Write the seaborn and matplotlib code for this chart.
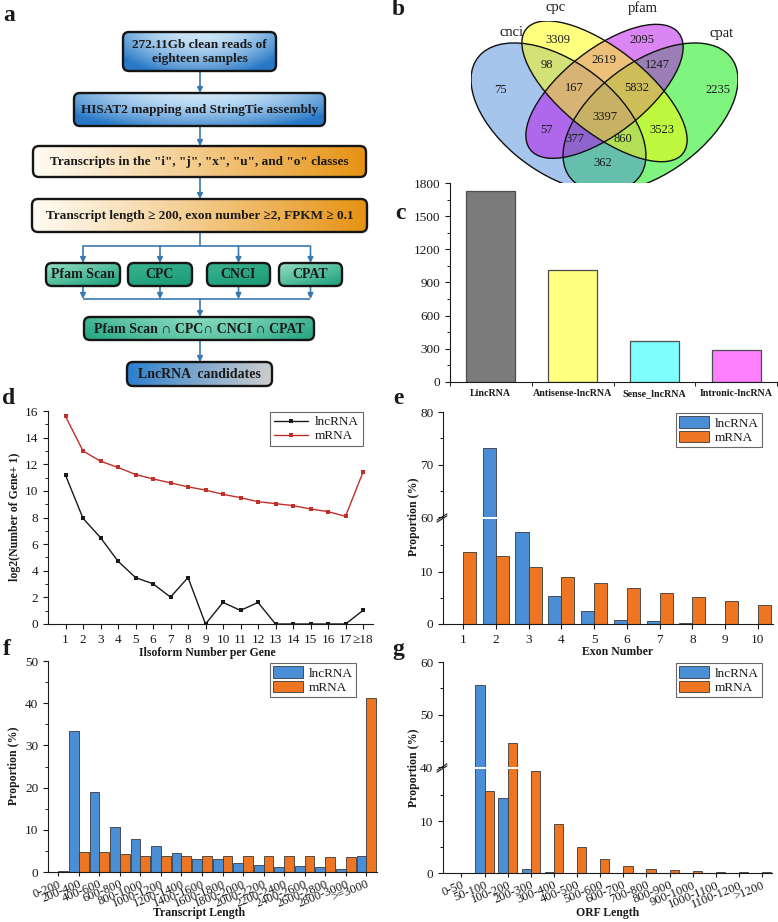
import numpy as np
import pandas as pd
import matplotlib
matplotlib.use("Agg")
import matplotlib.pyplot as plt
import seaborn as sns
from matplotlib.patches import FancyBboxPatch, Ellipse, Patch
from matplotlib.lines import Line2D
from matplotlib.ticker import MultipleLocator, FixedLocator

# ------------------------------------------------------------------ data
flow_steps = ["272.11Gb clean reads of\neighteen samples",
              "HISAT2 mapping and StringTie assembly",
              'Transcripts in the "i", "j", "x", "u", and "o" classes',
              "Transcript length \u2265 200, exon number \u22652, FPKM \u2265 0.1"]
flow_tools = ["Pfam Scan", "CPC", "CNCI", "CPAT"]
flow_final = ["Pfam Scan \u2229 CPC\u2229 CNCI \u2229 CPAT", "LncRNA  candidates"]

venn_sets = ["cnci", "cpc", "pfam", "cpat"]
venn_regions = ["cnci", "cpc", "pfam", "cpat",
                "cnci&cpc", "cpc&pfam", "pfam&cpat", "cnci&pfam", "cpc&cpat", "cnci&cpat",
                "cnci&cpc&pfam", "cpc&pfam&cpat", "cnci&pfam&cpat", "cnci&cpc&cpat",
                "all"]
venn_counts = [75, 3309, 2095, 2235,
               98, 2619, 1247, 57, 3523, 362,
               167, 5832, 377, 860,
               3397]

lnc_classes = ["LincRNA", "Antisense-lncRNA", "Sense_lncRNA", "Intronic-lncRNA"]
lnc_class_counts = [1727, 1015, 367, 285]

isoform_n = list(range(1, 19))
isoform_labels = [str(i) for i in range(1, 18)] + ["\u226518"]
iso_lnc = [11.18, 7.94, 6.49, 4.72, 3.49, 3.02, 2.02, 3.49, 0.0, 1.62, 1.02, 1.62, 0.0, 0.0, 0.0, 0.0, 0.0, 1.02]
iso_mrna = [15.6, 13.0, 12.23, 11.76, 11.23, 10.9, 10.6, 10.3, 10.06, 9.74, 9.49, 9.19, 9.04, 8.89, 8.64, 8.44, 8.09, 11.41]

exon_cats = [str(i) for i in range(1, 11)]
exon_lnc = [0.0, 73.2, 17.6, 5.3, 2.4, 0.8, 0.6, 0.15, 0.0, 0.0]
exon_mrna = [13.7, 12.9, 10.8, 9.0, 7.8, 6.8, 5.9, 5.1, 4.3, 3.7]

len_cats = ["0-200", "200-400", "400-600", "600-800", "800-1000", "1000-1200", "1200-1400",
            "1400-1600", "1600-1800", "1800-2000", "2000-2200", "2200-2400", "2400-2600",
            "2600-2800", "2800-3000", ">=3000"]
len_lnc = [0.0, 33.4, 19.0, 10.55, 7.9, 6.1, 4.4, 3.15, 3.15, 2.2, 1.65, 1.25, 1.4, 1.2, 0.8, 3.8]
len_mrna = [0.2, 4.7, 4.7, 4.2, 3.8, 3.8, 3.7, 3.9, 3.9, 3.9, 3.9, 3.8, 3.8, 3.6, 3.5, 41.3]

orf_cats = ["0-50", "50-100", "100-200", "200-300", "300-400", "400-500", "500-600", "600-700",
            "700-800", "800-900", "900-1000", "1000-1100", "1100-1200", ">1200"]
orf_lnc = [0.0, 55.7, 14.5, 0.7, 0.25, 0.0, 0.05, 0.0, 0.0, 0.0, 0.0, 0.0, 0.0, 0.0]
orf_mrna = [0.0, 15.8, 44.5, 19.7, 9.35, 5.0, 2.6, 1.4, 0.8, 0.6, 0.3, 0.2, 0.1, 0.1]

series = ["lncRNA", "mRNA"]

# ------------------------------------------------------------------ style
sns.set_theme(style="ticks")
plt.rcParams["font.family"] = ["Liberation Serif", "DejaVu Serif"]
plt.rcParams.update({
    "axes.linewidth": 0.8, "xtick.major.width": 0.8, "ytick.major.width": 0.8,
    "xtick.minor.width": 0.7, "ytick.minor.width": 0.7,
    "xtick.major.size": 3.5, "ytick.major.size": 3.5,
    "xtick.minor.size": 2, "ytick.minor.size": 2,
    "xtick.direction": "out", "ytick.direction": "out",
    "xtick.labelsize": 9.5, "ytick.labelsize": 9.5,
    "axes.edgecolor": "#1a1a1a", "xtick.color": "#1a1a1a", "ytick.color": "#1a1a1a",
    "text.color": "#1a1a1a",
})

W, H = 778, 922
fig = plt.figure(figsize=(W / 100, H / 100), dpi=100)


def rect(x0, y0, x1, y1):
    return [x0 / W, 1 - y1 / H, (x1 - x0) / W, (y1 - y0) / H]


def fp(x, y):
    return x / W, 1 - y / H


def letter(ch, x, y):
    fig.text(*fp(x, y), ch, fontsize=17, fontweight="bold", va="baseline", ha="left")


BLUE, ORANGE = "#4a8fd6", "#ee7623"
pal = {"lncRNA": BLUE, "mRNA": ORANGE}
EDGE = "#3a3a3a"

# ------------------------------------------------------------------ panel a (flowchart)
ax_a = fig.add_axes(rect(0, 0, 390, 395))
ax_a.set_xlim(0, 390)
ax_a.set_ylim(395, 0)
ax_a.axis("off")


def c(rgb):
    return np.array(rgb, dtype=float) / 255.0


def mix(c1, c2, t):
    t = np.clip(t, 0, 1)[..., None]
    return (1 - t) * c1 + t * c2


def g_blue(u, v):
    t = 0.6 * np.abs(2 * u - 1) ** 2 + 0.75 * v ** 1.6
    return mix(c((205, 230, 248)), c((40, 120, 198)), t)


def g_orange(u, v):
    return mix(c((255, 251, 242)), c((230, 146, 18)), u ** 1.1)


def g_teal_light(u, v):
    t = 0.5 * u + 0.6 * v
    return mix(c((150, 222, 195)), c((35, 165, 128)), t)


def g_teal_dark(u, v):
    t = 0.3 * u + 0.6 * v
    return mix(c((60, 180, 145)), c((20, 150, 112)), t)


def g_teal_mid(u, v):
    t = 0.7 * np.abs(2 * u - 1) ** 1.5 + 0.4 * v
    return mix(c((135, 218, 190)), c((40, 168, 132)), t)


def g_final(u, v):
    return mix(c((40, 125, 205)), c((205, 205, 205)), u ** 0.9)


def grad_box(x0, y0, x1, y1, func, text, fs=9.5, r=6):
    patch = FancyBboxPatch((x0, y0), x1 - x0, y1 - y0,
                           boxstyle=f"round,pad=0,rounding_size={r}",
                           fc="none", ec="#151515", lw=1.7, zorder=4)
    ax_a.add_patch(patch)
    hh, ww = 50, 240
    u = np.linspace(0, 1, ww)[None, :].repeat(hh, 0)
    v = np.linspace(0, 1, hh)[:, None].repeat(ww, 1)
    im = ax_a.imshow(func(u, v), extent=(x0, x1, y1, y0), origin="upper",
                     zorder=3, interpolation="bilinear", aspect="auto")
    im.set_clip_path(patch)
    ax_a.text((x0 + x1) / 2, (y0 + y1) / 2 + 0.5, text, ha="center", va="center",
              fontsize=fs, fontweight="bold", color="#1a1a1a", zorder=5, linespacing=1.15)


ACOL = "#3a78b0"


def arrow(x, y0, y1):
    ax_a.annotate("", xy=(x, y1), xytext=(x, y0),
                  arrowprops=dict(arrowstyle="-|>", color=ACOL, lw=1.2,
                                  mutation_scale=8, shrinkA=0, shrinkB=0), zorder=2)


def line(xs, ys):
    ax_a.plot(xs, ys, color=ACOL, lw=1.2, zorder=2, solid_capstyle="butt")


main_boxes = [(123, 32, 276, 71, g_blue), (74, 93, 325, 126, g_blue),
              (33, 146, 366, 177, g_orange), (32, 199, 367, 232, g_orange)]
for (x0, y0, x1, y1, f), t in zip(main_boxes, flow_steps):
    grad_box(x0, y0, x1, y1, f, t)
arrow(200, 71, 93)
arrow(200, 126, 146)
arrow(200, 177, 199)

tool_boxes = [(46, 120, g_teal_light), (128, 192, g_teal_dark),
              (207, 270, g_teal_dark), (279, 342, g_teal_light)]
centers = [(a + b) / 2 for a, b, _ in tool_boxes]
line([200, 200], [232, 246])
line([centers[0], centers[-1]], [246, 246])
line([centers[0], centers[-1]], [299, 299])
for (x0, x1, f), t, cx in zip(tool_boxes, flow_tools, centers):
    grad_box(x0, 263, x1, 286, f, t, fs=10)
    arrow(cx, 246, 263)
    arrow(cx, 286, 299)
arrow(200, 299, 317)
grad_box(84, 317, 314, 340, g_teal_mid, flow_final[0], fs=10)
arrow(200, 340, 362)
grad_box(127, 362, 272, 386, g_final, flow_final[1], fs=10)
ax_a.set_xlim(0, 390)
ax_a.set_ylim(395, 0)
letter("a", 3, 21)

# ------------------------------------------------------------------ panel b (venn)
ax_b = fig.add_axes(rect(471, 21, 738, 192))
ax_b.set_xlim(0.065, 0.935)
ax_b.set_ylim(0.185, 0.839)
ax_b.axis("off")
ell_geom = {"cnci": (0.35, 0.47, 0.35, 0.20, 135), "cpc": (0.50, 0.57, 0.35, 0.15, 135),
            "pfam": (0.50, 0.57, 0.33, 0.15, 45), "cpat": (0.65, 0.47, 0.35, 0.20, 45)}
ell_col = {"cnci": "#4f8cdc", "cpc": "#ffff00", "pfam": "#b80aeb", "cpat": "#00eb00"}
for s in ["cpat", "cnci", "pfam", "cpc"]:
    x, y, a, b, ang = ell_geom[s]
    ax_b.add_patch(Ellipse((x, y), 2 * a, 2 * b, angle=ang, fc=ell_col[s], alpha=0.5, ec="none"))
for s in venn_sets:
    x, y, a, b, ang = ell_geom[s]
    ax_b.add_patch(Ellipse((x, y), 2 * a, 2 * b, angle=ang, fill=False, ec="#111111", lw=1.0))

venn_label_px = [(511, 33), (556, 8), (643, 8), (722, 33)]
for s, (x, y) in zip(venn_sets, venn_label_px):
    fig.text(*fp(x, y), s, fontsize=10.5, ha="center", va="center")
venn_num_px = [(500, 90), (558, 40), (642, 40), (718, 90),
               (547, 65), (604, 60), (657, 65), (547, 130), (662, 130), (603, 163),
               (574, 88), (637, 88), (575, 139), (623, 139),
               (605, 117)]
for n, (x, y) in zip(venn_counts, venn_num_px):
    fig.text(*fp(x, y), str(n), fontsize=9, ha="center", va="center")
letter("b", 392, 15)

# ------------------------------------------------------------------ panel c (bar)
ax_c = fig.add_axes(rect(450, 183, 777, 382))
df_c = pd.DataFrame({"cls": lnc_classes, "count": lnc_class_counts})
cls_pal = dict(zip(lnc_classes, ["#7b7b7b", "#ffff80", "#80ffff", "#ff80ff"]))
sns.barplot(data=df_c, x="cls", y="count", hue="cls", palette=cls_pal, width=0.6,
            edgecolor="#4d4d4d", linewidth=0.9, ax=ax_c, legend=False, saturation=1)
ax_c.set_ylim(0, 1800)
ax_c.set_xlim(-0.5, 3.5)
ax_c.yaxis.set_major_locator(MultipleLocator(300))
ax_c.yaxis.set_minor_locator(MultipleLocator(150))
ax_c.xaxis.set_minor_locator(FixedLocator([-0.5, 0.5, 1.5, 2.5, 3.5]))
ax_c.tick_params(axis="x", which="major", length=0, pad=5)
ax_c.tick_params(axis="x", which="minor", length=3)
for lab in ax_c.get_xticklabels():
    lab.set_fontsize(7.2)
    lab.set_fontweight("bold")
ax_c.set_xlabel("")
ax_c.set_ylabel("")
sns.despine(ax=ax_c)
letter("c", 395, 219)

# ------------------------------------------------------------------ panel d (line)
ax_d = fig.add_axes(rect(48, 411, 373, 624))
df_d = pd.DataFrame({"iso": isoform_n * 2, "val": iso_lnc + iso_mrna,
                     "type": ["lncRNA"] * len(iso_lnc) + ["mRNA"] * len(iso_mrna)})
line_pal = {"lncRNA": "#1a1a1a", "mRNA": "#c0302a"}
sns.lineplot(data=df_d, x="iso", y="val", hue="type", palette=line_pal, marker="s",
             markersize=3.2, markeredgewidth=0, linewidth=1.0, ax=ax_d, legend=False)
ax_d.set_ylim(0, 16)
ax_d.set_xlim(0, 18.57)
ax_d.set_xticks(isoform_n)
ax_d.set_xticklabels(isoform_labels)
ax_d.yaxis.set_major_locator(MultipleLocator(2))
ax_d.yaxis.set_minor_locator(MultipleLocator(1))
ax_d.set_xlabel("")
ax_d.set_ylabel("")
sns.despine(ax=ax_d)
h_d = [Line2D([], [], color=line_pal[s], marker="s", markersize=3.2, markeredgewidth=0, lw=1.0)
       for s in series]
ax_d.legend(h_d, series, loc="upper right", bbox_to_anchor=fp(363, 412), bbox_transform=fig.transFigure,
            borderaxespad=0, frameon=True, fancybox=False, edgecolor="#444444", fontsize=9.5,
            handlelength=2.6, borderpad=0.3, labelspacing=0.15, handletextpad=0.5).get_frame().set_linewidth(0.8)
fig.text(*fp(15, 517), "log2(Number of Gene+ 1)", rotation=90, fontsize=8.5, fontweight="bold",
         ha="center", va="center")
fig.text(*fp(207, 653), "Ilsoform Number per Gene", fontsize=8.5, fontweight="bold",
         ha="center", va="center")
letter("d", 2, 404)


# ------------------------------------------------------------------ broken bar helper
def long_df(cats, lnc, mrna, key):
    return pd.DataFrame({key: cats * 2, "prop": lnc + mrna,
                         "type": ["lncRNA"] * len(lnc) + ["mRNA"] * len(mrna)})


def bars(ax, df, key, order, width):
    sns.barplot(data=df, x=key, y="prop", hue="type", hue_order=series, order=order,
                palette=pal, width=width, edgecolor=EDGE, linewidth=0.6, ax=ax,
                legend=False, saturation=1, errorbar=None)
    ax.set_xlabel("")
    ax.set_ylabel("")


def bar_legend(ax, x1, y0):
    hs = [Patch(fc=pal[s], ec=EDGE, lw=0.6) for s in series]
    lg = ax.legend(hs, series, loc="upper right", bbox_to_anchor=fp(x1, y0),
                   bbox_transform=fig.transFigure, borderaxespad=0, frameon=True,
                   fancybox=False, edgecolor="#444444", fontsize=9.5, handlelength=2.3,
                   handleheight=0.95, borderpad=0.25, labelspacing=0.1, handletextpad=0.4)
    lg.get_frame().set_linewidth(0.8)


def rotated_labels(ax, cats):
    ax.set_xticks(range(len(cats)))
    ax.set_xticklabels(cats, rotation=22, ha="right", rotation_mode="anchor", fontsize=9)
    ax.tick_params(axis="x", length=3, pad=1.5)


def broken(top_rect, bot_rect, cats, lnc, mrna, key, xlim, width, top_lim, top_ticks, leg):
    df = long_df(cats, lnc, mrna, key)
    ax_t = fig.add_axes(rect(*top_rect))
    ax_b2 = fig.add_axes(rect(*bot_rect))
    for ax in (ax_t, ax_b2):
        bars(ax, df, key, cats, width)
        ax.set_xlim(*xlim)
        ax.patch.set_alpha(0)
    ax_t.set_ylim(*top_lim)
    ax_t.set_yticks(top_ticks)
    ax_t.yaxis.set_minor_locator(MultipleLocator(5))
    ax_t.tick_params(axis="x", which="both", bottom=False, labelbottom=False)
    sns.despine(ax=ax_t, bottom=True)
    ax_b2.set_ylim(0, 20)
    ax_b2.set_yticks([0, 10])
    ax_b2.yaxis.set_minor_locator(FixedLocator([5, 15]))
    sns.despine(ax=ax_b2)
    for ax, yy in ((ax_t, 0.0), (ax_b2, 1.0)):
        ax.plot([-0.018, 0.012], [yy - 0.03, yy + 0.03], transform=ax.transAxes,
                color="#1a1a1a", lw=0.8, clip_on=False)
    bar_legend(ax_t, *leg)
    return ax_t, ax_b2


# ------------------------------------------------------------------ panel e
ax_e1, ax_e2 = broken((443, 412, 773, 517), (443, 519, 773, 624), exon_cats, exon_lnc, exon_mrna,
                      "exon", (-0.61, 9.46), 0.8, (60, 80), [60, 70, 80], (762, 413))
fig.text(*fp(414, 517), "Proportion (%)", rotation=90, fontsize=8.5, fontweight="bold",
         ha="center", va="center")
fig.text(*fp(618, 652), "Exon Number", fontsize=8.5, fontweight="bold", ha="center", va="center")
letter("e", 393, 404)

# ------------------------------------------------------------------ panel f
ax_f = fig.add_axes(rect(48, 661, 377, 872))
df_f = long_df(len_cats, len_lnc, len_mrna, "len")
bars(ax_f, df_f, "len", len_cats, 0.95)
ax_f.set_xlim(-0.5, 15.52)
ax_f.set_ylim(0, 50)
ax_f.yaxis.set_major_locator(MultipleLocator(10))
ax_f.yaxis.set_minor_locator(MultipleLocator(5))
rotated_labels(ax_f, len_cats)
sns.despine(ax=ax_f)
bar_legend(ax_f, 356, 663)
fig.text(*fp(14, 766), "Proportion (%)", rotation=90, fontsize=8.5, fontweight="bold",
         ha="center", va="center")
fig.text(*fp(199, 913), "Transcript Length", fontsize=8.5, fontweight="bold", ha="center", va="center")
letter("f", 3, 655)

# ------------------------------------------------------------------ panel g
ax_g1, ax_g2 = broken((443, 662, 772, 767), (443, 769, 772, 873), orf_cats, orf_lnc, orf_mrna,
                      "orf", (-0.8, 13.43), 0.8, (40, 60), [40, 50, 60], (762, 663))
rotated_labels(ax_g2, orf_cats)
fig.text(*fp(414, 768), "Proportion (%)", rotation=90, fontsize=8.5, fontweight="bold",
         ha="center", va="center")
fig.text(*fp(608, 913), "ORF Length", fontsize=8.5, fontweight="bold", ha="center", va="center")
letter("g", 392, 655)

fig.savefig("out.png", dpi=100)
